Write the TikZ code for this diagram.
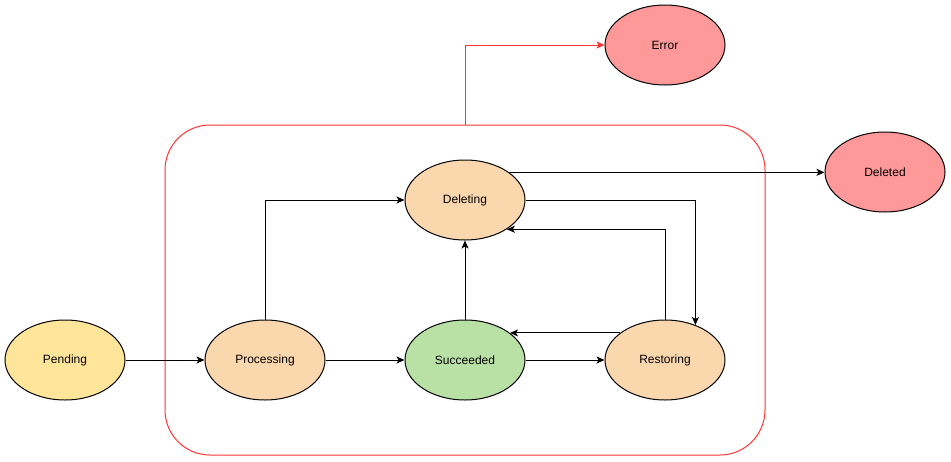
\documentclass[tikz,border=0pt]{standalone}
\usepackage{fontspec}
\setmainfont{Liberation Sans}
\usetikzlibrary{arrows.meta,shapes.geometric}
\definecolor{PendingFill}{HTML}{FFE599}
\definecolor{BusyFill}{HTML}{FAD7AC}
\definecolor{DoneFill}{HTML}{B9E0A5}
\definecolor{FailFill}{HTML}{FF9999}
\definecolor{FrameRed}{HTML}{FF3333}

\begin{document}
\begin{tikzpicture}[x=1pt,y=-1pt,line width=1pt,
  >={Stealth[length=8pt,width=7pt,inset=2pt]},
  state/.style={ellipse,draw,minimum width=120pt,minimum height=80pt,inner sep=0pt,
    font=\fontsize{12}{14}\selectfont},
  frame/.style={draw=FrameRed,rounded corners=45pt,minimum width=600pt,minimum height=330pt}]

% 1 unit = 1 px of the drawing, y grows downward
\useasboundingbox (0,0) rectangle (951,461);

% ---- FRAME ----
\node[frame] (frame) at (465,290) {};

% ---- STATES ----
\node[state,fill=PendingFill] (pending) at (65,360) {Pending};
\node[state,fill=BusyFill] (processing) at (265,360) {Processing};
\node[state,fill=DoneFill] (succeeded) at (465,360) {Succeeded};
\node[state,fill=BusyFill] (restoring) at (665,360) {Restoring};
\node[state,fill=BusyFill] (deleting) at (465,200) {Deleting};
\node[state,fill=FailFill] (error) at (665,45) {Error};
\node[state,fill=FailFill] (deleted) at (885,172) {Deleted};

% ---- TRANSITIONS ----
\draw[->] (pending) -- (processing);
\draw[->] (processing) -- (succeeded);
\draw[->] (succeeded) -- (restoring);
\draw[->] (processing.north) |- (deleting.west);
\draw[->] (succeeded) -- (deleting);
\draw[->] (deleting.32) -- (deleting.32 -| deleted.west);
\draw[->] (deleting.east) -| (restoring.49);
\draw[->] (restoring.north) |- (deleting.-35);
\draw[->] (restoring.149) -- (succeeded.31);

% any failure inside the frame
\draw[->,FrameRed] (frame.north) |- (error.west);

\end{tikzpicture}
\end{document}
